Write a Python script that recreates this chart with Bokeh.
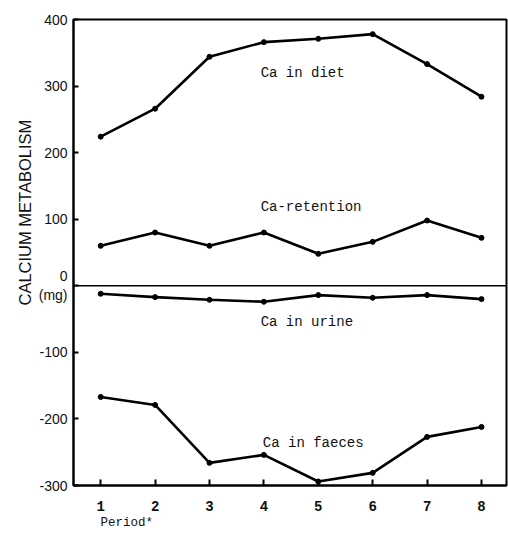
from bokeh.plotting import figure
from bokeh.models import Range1d, FixedTicker, LinearAxis, Span, Label, ColumnDataSource, Title
from bokeh.embed import file_html
from bokeh.resources import INLINE

# Calcium balance per period (mg)
periods = [1, 2, 3, 4, 5, 6, 7, 8]
ca_diet = [224, 266, 344, 366, 371, 378, 333, 284]
ca_retention = [60, 80, 60, 80, 48, 66, 98, 72]
ca_urine = [-12, -17, -21, -24, -14, -18, -14, -20]
ca_faeces = [-167, -179, -266, -254, -294, -281, -227, -212]

y_ticks = [400, 300, 200, 100, 0, -100, -200, -300]
y_tick_labels = ["400", "300", "200", "100", "0\n(mg)", "-100", "-200", "-300"]
x_ticks = periods

series_labels = [
    ("Ca in diet", 3.94, 320),
    ("Ca-retention", 3.94, 119),
    ("Ca in urine", 3.94, -54),
    ("Ca in faeces", 3.98, -236),
]

MONO = "Liberation Mono"
SANS = "Liberation Sans"

p = figure(width=508, height=533, output_backend="svg", toolbar_location=None,
           x_range=Range1d(0.5, 8.46), y_range=Range1d(-300, 400),
           min_border_left=73, min_border_right=2, min_border_top=19,
           min_border_bottom=48, x_axis_type=None, y_axis_type=None)
p.background_fill_color = "white"
p.border_fill_color = "white"
p.outline_line_color = "black"
p.outline_line_width = 2
p.xgrid.visible = False
p.ygrid.visible = False

# left axis with ticks pointing into the frame
ya = LinearAxis(ticker=FixedTicker(ticks=y_ticks))
ya.major_label_overrides = dict(zip(y_ticks, y_tick_labels))
ya.major_tick_in = 5
ya.major_tick_out = 0
ya.minor_tick_line_color = None
ya.axis_line_width = 2
ya.major_tick_line_width = 2
ya.major_label_text_font = SANS
ya.major_label_text_font_size = "14px"
ya.major_label_text_color = "#111111"
ya.major_label_standoff = 6
p.add_layout(ya, "left")

# vertical axis title
p.add_layout(Title(text="CALCIUM METABOLISM", align="left", offset=180,
                   text_font=SANS, text_font_size="16.5px", text_font_style="normal",
                   text_color="#111111", standoff=3), "left")

# bottom axis
xa = LinearAxis(ticker=FixedTicker(ticks=x_ticks))
xa.major_tick_in = 6
xa.major_tick_out = 0
xa.minor_tick_line_color = None
xa.axis_line_width = 2
xa.major_tick_line_width = 2
xa.major_label_text_font = MONO
xa.major_label_text_font_style = "bold"
xa.major_label_text_font_size = "14px"
xa.major_label_text_color = "#111111"
xa.major_label_standoff = 15
p.add_layout(xa, "below")

p.add_layout(Title(text="Period*", align="left", offset=27,
                   text_font=MONO, text_font_size="12.5px", text_font_style="normal",
                   text_color="#111111", standoff=0), "below")

# zero line
p.add_layout(Span(location=0, dimension="width", line_color="black", line_width=1.5))

for ys in (ca_diet, ca_retention, ca_urine, ca_faeces):
    src = ColumnDataSource(dict(x=periods, y=ys))
    p.line("x", "y", source=src, line_color="black", line_width=2.6)
    p.scatter("x", "y", source=src, size=5, fill_color="black", line_color="black")

for txt, lx, ly in series_labels:
    p.add_layout(Label(x=lx, y=ly, text=txt, text_font=MONO, text_font_size="14px",
                       text_color="#111111", text_baseline="middle", text_align="left"))

open("out.html", "w").write(file_html(p, INLINE))
